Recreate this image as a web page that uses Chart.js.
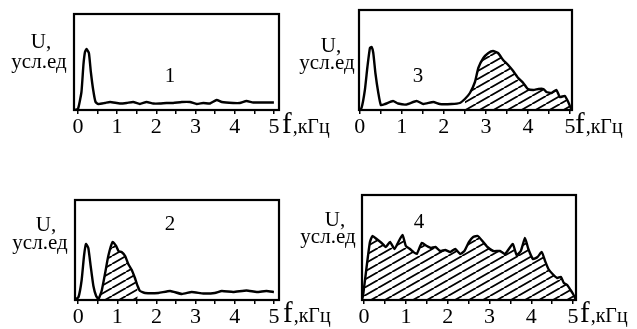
<!DOCTYPE html>
<html>
<head>
<meta charset="utf-8">
<script src="https://cdn.jsdelivr.net/npm/chart.js@4.4.1/dist/chart.umd.min.js"></script>
<style>
  html, body { margin: 0; padding: 0; background: #fff; }
  #wrap { position: relative; width: 637px; height: 329px; overflow: hidden; background: #fff; }
  #wrap canvas { position: absolute; left: 0; top: 0; }
</style>
</head>
<body>
<div id="wrap">
  <canvas id="c1" width="637" height="329"></canvas>
  <canvas id="c2" width="637" height="329"></canvas>
  <canvas id="c3" width="637" height="329"></canvas>
  <canvas id="c4" width="637" height="329"></canvas>
</div>
<script>
// Frequency axis ticks, kHz
const TICK_VALUES = [0, 0.5, 1, 1.5, 2, 2.5, 3, 3.5, 4, 4.5, 5];

// Spectrum 1: single low-frequency peak, flat noise floor
const F1 = [-0.1, 0.0, 0.09, 0.14, 0.18, 0.22, 0.28, 0.33, 0.39, 0.45, 0.52, 0.69, 0.82, 1.07, 1.24, 1.41, 1.58, 1.75, 1.92, 2.09, 2.26, 2.43, 2.65, 2.86, 3.03, 3.2, 3.37, 3.54, 3.67, 3.96, 4.13, 4.3, 4.47, 4.73, 5.0];
const U1 = [0, 1, 18, 45, 58, 61, 57, 38, 20, 8, 6, 7, 8, 6.5, 7, 8, 6, 8, 6.5, 6.5, 7, 7, 8, 8, 6, 7, 6.5, 10, 8, 7, 7, 9, 7.5, 7.5, 7.5];

// Spectrum 2: low peak plus a band around 1 kHz
const F2 = [-0.08, 0.01, 0.09, 0.15, 0.2, 0.26, 0.32, 0.39, 0.46, 0.52, 0.6, 0.69, 0.77, 0.88, 0.97, 1.03, 1.11, 1.2, 1.28, 1.37, 1.45, 1.52, 1.58, 1.71, 2.05, 2.35, 2.65, 2.9, 3.2, 3.49, 3.67, 3.96, 4.3, 4.56, 4.81, 5.0];
const U2 = [0, 3, 20, 44, 56, 52, 34, 14, 4, 1, 9, 27, 44, 58, 54, 49, 48, 44, 36, 30, 22, 14, 9, 7, 7, 9, 6, 8, 6.5, 7, 9, 8, 9.5, 8, 9, 8];

// Spectrum 3: low peak plus a broad band from 2.5 kHz
const F3 = [-0.02, 0.04, 0.12, 0.18, 0.24, 0.28, 0.32, 0.37, 0.44, 0.5, 0.6, 0.79, 0.91, 1.11, 1.35, 1.51, 1.75, 1.9, 2.18, 2.38, 2.5, 2.62, 2.74, 2.82, 2.94, 3.06, 3.17, 3.29, 3.41, 3.53, 3.65, 3.77, 3.89, 4.0, 4.13, 4.25, 4.37, 4.44, 4.56, 4.68, 4.76, 4.88, 4.96, 5.04];
const U3 = [0, 2, 20, 43, 62, 63, 57, 37, 17, 5, 6, 9, 6.5, 5.5, 9, 6, 8, 6, 6, 7, 11, 17, 28, 42, 52, 57, 59, 57, 50, 45, 39, 32, 27, 21, 20, 21, 21, 18, 17, 20, 13, 14, 8, 0];

// Spectrum 4: wide-band signal across the whole range
const F4 = [-0.05, -0.02, 0.06, 0.14, 0.2, 0.3, 0.42, 0.52, 0.62, 0.73, 0.82, 0.92, 1.0, 1.1, 1.18, 1.26, 1.38, 1.5, 1.6, 1.71, 1.82, 1.94, 2.06, 2.18, 2.3, 2.4, 2.51, 2.61, 2.72, 2.83, 2.95, 3.09, 3.25, 3.37, 3.48, 3.56, 3.65, 3.75, 3.85, 3.93, 4.04, 4.15, 4.25, 4.33, 4.41, 4.51, 4.62, 4.71, 4.78, 4.86, 4.94, 5.0, 5.06];
const U4 = [0, 6, 33, 58, 64, 61, 57, 53, 58, 51, 58, 65, 54, 51, 48, 46, 57, 54, 52, 53, 49, 50, 48, 51, 46, 49, 58, 63, 64, 59, 53, 49, 49, 46, 52, 56, 45, 49, 62, 51, 41, 43, 48, 39, 31, 26, 22, 23, 17, 15, 10, 6, 1];

// Hatched frequency bands [from, to] (null = none)
const BAND1 = null;
const BAND2 = [0.5, 1.52];
const BAND3 = [2.5, 5.1];
const BAND4 = [-1, 6];

// Panel captions
const Y_LABEL_1 = 'U,';
const Y_LABEL_2 = 'усл.ед';
const X_LABEL_SYMBOL = 'f';
const X_LABEL_UNIT = ',кГц';

const W = 637, H = 329, AXIS_H = 30;
const SERIF = '"Liberation Serif", "Times New Roman", serif';

// Layout of the four panels (pixel boxes and caption anchors)
const PANELS = [
  { id: 'c1', f: F1, u: U1, band: BAND1, num: '1',
    box: { l: 74, r: 279, t: 14, b: 110 }, xmin: -0.1, xmax: 5.13, ymax: 96,
    uPos: [41, 48], edPos: [39, 68], numPos: [170, 82], fPos: [282, 133] },
  { id: 'c2', f: F2, u: U2, band: BAND2, num: '2',
    box: { l: 75, r: 279, t: 200, b: 300 }, xmin: -0.08, xmax: 5.13, ymax: 100,
    uPos: [46, 231], edPos: [40, 249], numPos: [170, 230], fPos: [283, 322] },
  { id: 'c3', f: F3, u: U3, band: BAND3, num: '3',
    box: { l: 359, r: 572, t: 10, b: 110 }, xmin: -0.02, xmax: 5.05, ymax: 100,
    uPos: [331, 52], edPos: [327, 69], numPos: [418, 82], fPos: [575, 133] },
  { id: 'c4', f: F4, u: U4, band: BAND4, num: '4',
    box: { l: 362, r: 576, t: 195, b: 300 }, xmin: -0.05, xmax: 5.07, ymax: 105,
    uPos: [335, 226], edPos: [328, 243], numPos: [419, 228], fPos: [580, 322] }
];

function hatchPattern(ctx) {
  const tw = 14, th = 8;
  const tile = document.createElement('canvas');
  tile.width = tw; tile.height = th;
  const t = tile.getContext('2d');
  t.fillStyle = '#fff';
  t.fillRect(0, 0, tw, th);
  t.strokeStyle = '#000';
  t.lineWidth = 1.8;
  t.beginPath();
  for (let k = -1; k <= 1; k++) {
    t.moveTo(k * tw, th);
    t.lineTo((k + 1) * tw, 0);
  }
  t.stroke();
  return ctx.createPattern(tile, 'repeat');
}

const framePlugin = {
  id: 'frame',
  afterDatasetsDraw(chart) {
    const { ctx, chartArea: a } = chart;
    ctx.save();
    ctx.strokeStyle = '#000';
    ctx.lineWidth = 2.2;
    ctx.strokeRect(a.left, a.top, a.right - a.left, a.bottom - a.top);
    ctx.restore();
  }
};

const captionPlugin = {
  id: 'captions',
  afterDraw(chart, args, opts) {
    const p = opts.panel;
    const ctx = chart.ctx;
    ctx.save();
    ctx.fillStyle = '#000';
    ctx.textBaseline = 'alphabetic';
    ctx.textAlign = 'center';
    ctx.font = '21px ' + SERIF;
    ctx.fillText(Y_LABEL_1, p.uPos[0], p.uPos[1]);
    ctx.fillText(Y_LABEL_2, p.edPos[0], p.edPos[1]);
    ctx.font = '21px ' + SERIF;
    ctx.fillText(p.num, p.numPos[0], p.numPos[1]);
    ctx.textAlign = 'left';
    ctx.font = '29px ' + SERIF;
    ctx.fillText(X_LABEL_SYMBOL, p.fPos[0], p.fPos[1]);
    const fw = ctx.measureText(X_LABEL_SYMBOL).width;
    ctx.font = '20px ' + SERIF;
    ctx.fillText(X_LABEL_UNIT, p.fPos[0] + fw + 1, p.fPos[1]);
    ctx.restore();
  }
};

PANELS.forEach(p => {
  const canvas = document.getElementById(p.id);
  const ctx = canvas.getContext('2d');
  const points = p.f.map((x, i) => ({ x: x, y: p.u[i] }));
  const datasets = [];
  if (p.band) {
    datasets.push({
      data: points.filter(pt => pt.x >= p.band[0] && pt.x <= p.band[1]),
      borderWidth: 0,
      borderColor: 'rgba(0,0,0,0)',
      backgroundColor: hatchPattern(ctx),
      fill: 'origin',
      pointRadius: 0,
      tension: 0.15,
      order: 2
    });
  }
  datasets.push({
    data: points,
    borderColor: '#000',
    borderWidth: 2.4,
    fill: false,
    pointRadius: 0,
    tension: 0.15,
    order: 1
  });

  new Chart(canvas, {
    type: 'line',
    data: { datasets: datasets },
    options: {
      responsive: false,
      animation: false,
      events: [],
      layout: {
        padding: {
          left: p.box.l,
          right: W - p.box.r,
          top: p.box.t,
          bottom: H - p.box.b - AXIS_H
        }
      },
      scales: {
        x: {
          type: 'linear',
          min: p.xmin,
          max: p.xmax,
          afterBuildTicks: s => { s.ticks = TICK_VALUES.map(v => ({ value: v })); },
          afterFit: s => { s.height = AXIS_H; },
          border: { display: false },
          grid: {
            display: true,
            drawOnChartArea: false,
            drawTicks: true,
            tickLength: 4,
            color: '#000',
            lineWidth: 1.5
          },
          ticks: {
            autoSkip: false,
            maxRotation: 0,
            padding: 0,
            color: '#000',
            font: { family: SERIF, size: 22 },
            callback: v => Number.isInteger(v) ? String(v) : ''
          }
        },
        y: { display: false, min: 0, max: p.ymax }
      },
      plugins: {
        legend: { display: false },
        tooltip: { enabled: false },
        captions: { panel: p }
      }
    },
    plugins: [framePlugin, captionPlugin]
  });
});
</script>
</body>
</html>
